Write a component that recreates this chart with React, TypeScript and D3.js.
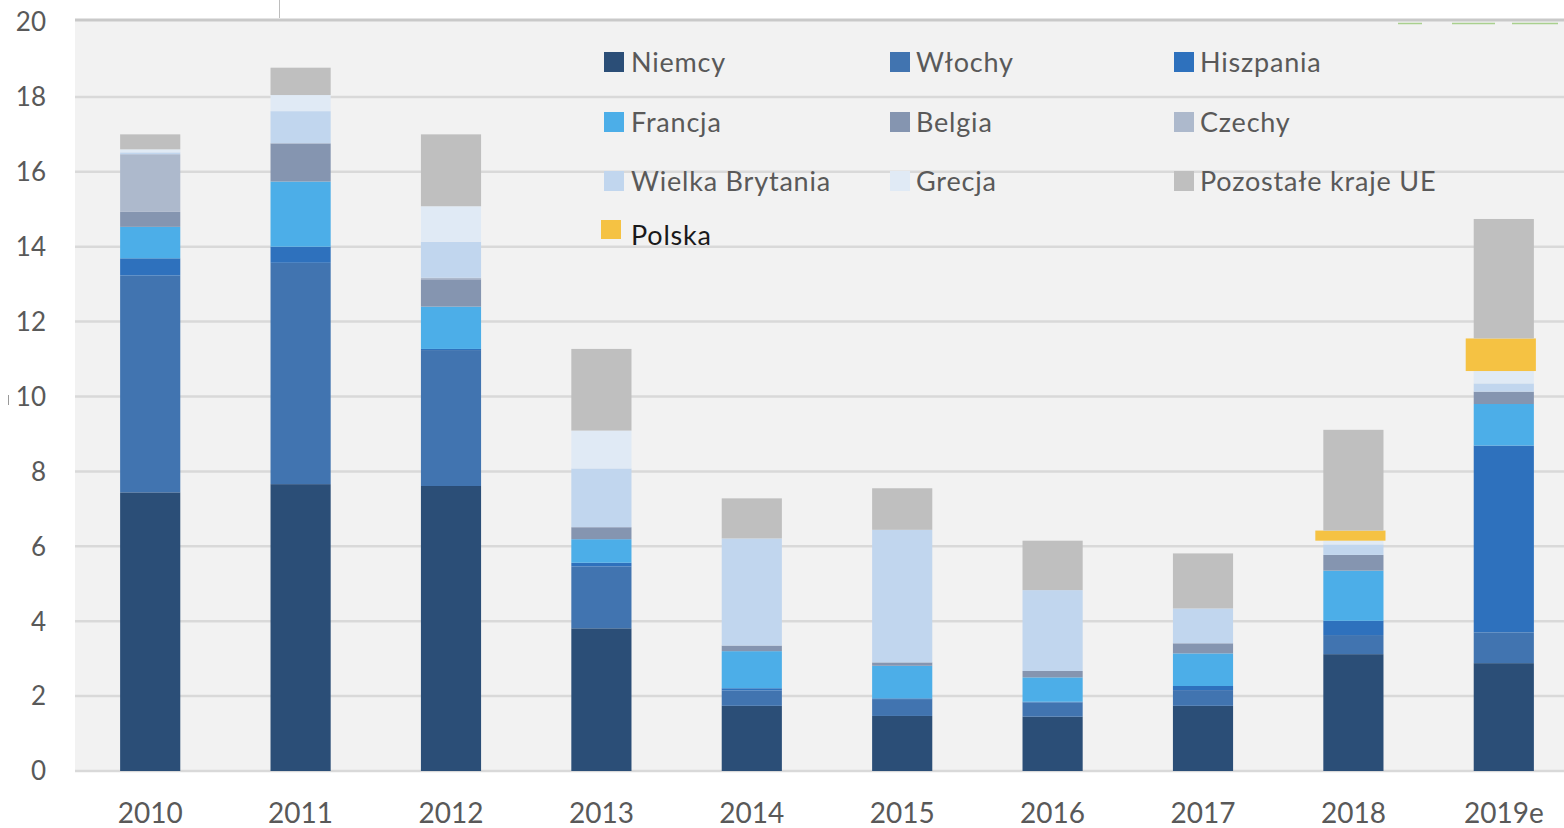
import React from "react";
import * as d3 from "d3";

const years = ["2010", "2011", "2012", "2013", "2014", "2015", "2016", "2017", "2018", "2019e"];
const seriesNames = ["Niemcy", "Włochy", "Hiszpania", "Francja", "Belgia", "Czechy", "Wielka Brytania", "Grecja", "Polska", "Pozostałe kraje UE"];
const niemcy = [7.44, 7.66, 7.61, 3.81, 1.74, 1.47, 1.45, 1.74, 3.12, 2.88];
const wlochy = [5.79, 5.91, 3.63, 1.65, 0.41, 0.45, 0.38, 0.42, 0.51, 0.82];
const hiszpania = [0.46, 0.43, 0.03, 0.1, 0.06, 0.02, 0.02, 0.11, 0.38, 4.99];
const francja = [0.84, 1.74, 1.13, 0.63, 0.99, 0.87, 0.65, 0.87, 1.34, 1.11];
const belgia = [0.4, 1.02, 0.73, 0.32, 0.15, 0.09, 0.17, 0.27, 0.42, 0.33];
const czechy = [1.54, 0, 0.04, 0, 0, 0, 0, 0, 0, 0];
const wielkaBrytania = [0.05, 0.86, 0.96, 1.57, 2.86, 3.54, 2.16, 0.93, 0.28, 0.22];
const grecja = [0.08, 0.43, 0.95, 1.01, 0, 0, 0, 0, 0.1, 0.33];
const polska = [0, 0, 0, 0, 0, 0, 0, 0, 0.27, 0.87];
const pozostale = [0.4, 0.73, 1.92, 2.18, 1.07, 1.11, 1.32, 1.47, 2.69, 3.19];
const yTicks = [0, 2, 4, 6, 8, 10, 12, 14, 16, 18, 20];
const legendOrder = ["Niemcy", "Włochy", "Hiszpania", "Francja", "Belgia", "Czechy", "Wielka Brytania", "Grecja", "Pozostałe kraje UE", "Polska"];

const colors: Record<string, string> = {
  "Niemcy": "#2b4e77",
  "Włochy": "#4174b0",
  "Hiszpania": "#2e71bd",
  "Francja": "#4caee8",
  "Belgia": "#8595b0",
  "Czechy": "#adb9cc",
  "Wielka Brytania": "#c1d6ee",
  "Grecja": "#e0eaf5",
  "Polska": "#f5c243",
  "Pozostałe kraje UE": "#bfbfbf",
};

const seriesValues = [niemcy, wlochy, hiszpania, francja, belgia, czechy, wielkaBrytania, grecja, polska, pozostale];

export default function App() {
  const W = 1564, H = 828;
  const plotLeft = 75, plotTop = 20, plotBottom = 771;
  const font = "Lato, 'Open Sans', sans-serif";

  const rows = years.map((y, i) => {
    const r: any = { year: y };
    seriesNames.forEach((s, k) => (r[s] = seriesValues[k][i]));
    return r;
  });
  const stacked = d3.stack().keys(seriesNames)(rows);

  const x = d3.scaleBand().domain(years).range([plotLeft, 1579]).paddingInner(0.6).paddingOuter(0.3);
  const y = d3.scaleLinear().domain([0, 20]).range([plotBottom, 22]);

  return (
    <svg width={W} height={H} style={{ position: "absolute", left: 0, top: 0, background: "#fff" }}>
      <rect x={plotLeft} y={plotTop} width={W - plotLeft} height={plotBottom + 1 - plotTop} fill="#f2f2f2" />
      <line x1={plotLeft} x2={W} y1={20} y2={20} stroke="#c9c9c9" strokeWidth={3} />
      <line x1={279.5} x2={279.5} y1={0} y2={18} stroke="#bdbdbd" strokeWidth={1} />
      <line x1={8.5} x2={8.5} y1={395} y2={405} stroke="#999" strokeWidth={1} />
      {[1398, 1452, 1512].map((gx, i) => (
        <line key={i} x1={gx} x2={gx + [24, 43, 46][i]} y1={23.5} y2={23.5} stroke="#a9d08e" strokeWidth={1.5} />
      ))}
      {yTicks.filter((t) => t > 0 && t < 20).map((t) => (
        <line key={t} x1={plotLeft} x2={W} y1={y(t)} y2={y(t)} stroke="#d9d9d9" strokeWidth={2.5} />
      ))}
      <line x1={plotLeft} x2={W} y1={y(0)} y2={y(0)} stroke="#d9d9d9" strokeWidth={2.5} />
      {yTicks.map((t) => (
        <text key={t} x={46} y={y(t)} dy="0.36em" textAnchor="end" fontSize={26} fill="#595959" fontFamily={font}>
          {t}
        </text>
      ))}
      {stacked.map((layer) => (
        <g key={layer.key} fill={colors[layer.key]}>
          {layer.map((d: any, i: number) => {
            const h = y(d[0]) - y(d[1]);
            if (h <= 0) return null;
            const isPl = layer.key === "Polska";
            const bx = (x(years[i]) as number) - (isPl ? 8 : 0);
            const bw = x.bandwidth() + (isPl ? 10 : 0);
            return <rect key={i} x={bx} y={y(d[1])} width={bw} height={h} />;
          })}
        </g>
      ))}
      {years.map((yr) => (
        <text key={yr} x={(x(yr) as number) + x.bandwidth() / 2} y={823} textAnchor="middle" fontSize={28} fill="#595959" fontFamily={font}>
          {yr}
        </text>
      ))}
      {legendOrder.map((name, i) => {
        const col = i % 3;
        const row = Math.floor(i / 3);
        const sx = [604, 890, 1174][col];
        const tx = [631, 916, 1200][col];
        const isPl = name === "Polska";
        const baseline = [72, 132, 191, 245][row];
        return (
          <g key={name}>
            <rect x={isPl ? 601 : sx} y={isPl ? 220 : baseline - 20} width={20} height={isPl ? 19 : 20} fill={colors[name]} />
            <text x={tx} y={baseline} fontSize={27} letterSpacing={0.8} fill={isPl ? "#1a1a1a" : "#595959"} fontFamily={font}>
              {name}
            </text>
          </g>
        );
      })}
    </svg>
  );
}
